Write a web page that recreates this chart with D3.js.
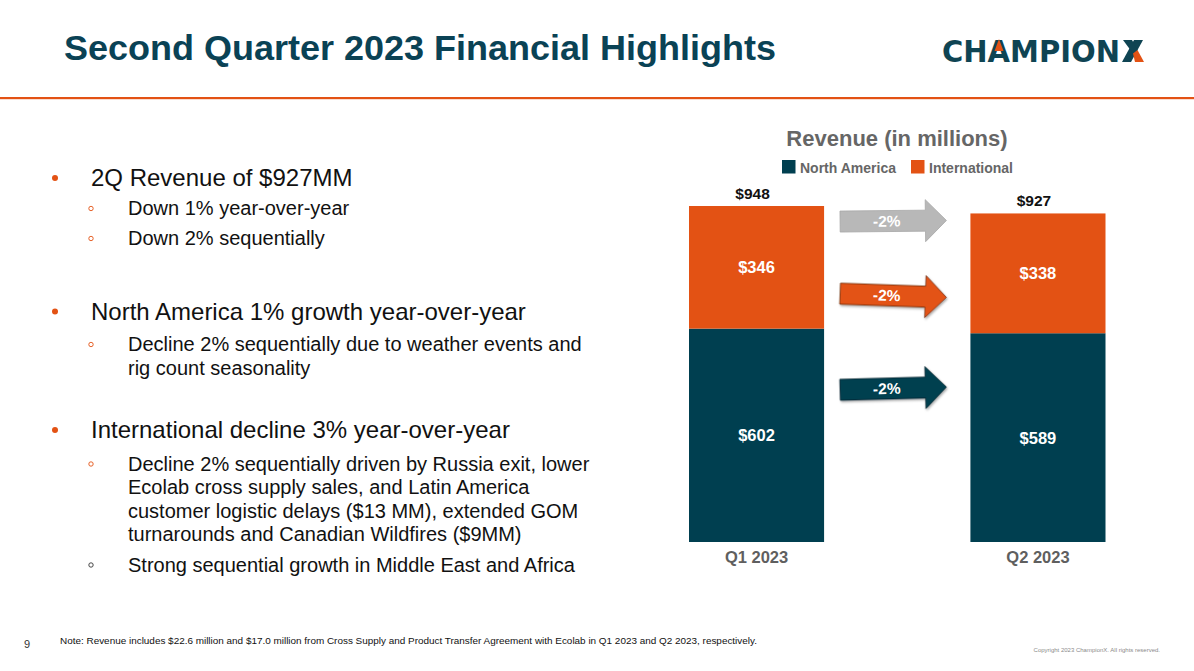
<!DOCTYPE html>
<html>
<head>
<meta charset="utf-8">
<script src="https://cdn.jsdelivr.net/npm/d3@7/dist/d3.min.js"></script>
<style>
  html, body { margin: 0; padding: 0; background: #ffffff; }
  svg { display: block; font-family: "Liberation Sans", Arial, sans-serif; }
</style>
</head>
<body>
<svg id="chart" width="1194" height="671"></svg>
<script>
// ---------- DATA ----------
const categories = ["Q1 2023", "Q2 2023"];
const seriesNames = ["North America", "International"];
const northAmerica = [602, 589];
const international = [346, 338];
const totals = [948, 927];
const changeLabels = ["-2%", "-2%", "-2%"]; // total, international, north america
const chartTitle = "Revenue (in millions)";
const slideTitle = "Second Quarter 2023 Financial Highlights";

const bullets = [
  { level: 0, lines: ["2Q Revenue of $927MM"] },
  { level: 1, lines: ["Down 1% year-over-year"] },
  { level: 1, lines: ["Down 2% sequentially"] },
  { level: 0, lines: ["North America 1% growth year-over-year"] },
  { level: 1, lines: ["Decline 2% sequentially due to weather events and", "rig count seasonality"] },
  { level: 0, lines: ["International decline 3% year-over-year"] },
  { level: 1, lines: ["Decline 2% sequentially driven by Russia exit, lower", "Ecolab cross supply sales, and Latin America", "customer logistic delays ($13 MM), extended GOM", "turnarounds and Canadian Wildfires ($9MM)"] },
  { level: 1, lines: ["Strong sequential growth in Middle East and Africa"], dark: true }
];
const bulletY = [178, 208.5, 238.5, 311.5, 344.5, 430, 464, 565];
const footNote = "Note: Revenue includes $22.6 million and $17.0 million from Cross Supply and Product Transfer Agreement with Ecolab in Q1 2023 and Q2 2023, respectively.";
const pageNumber = "9";
const copyright = "Copyright 2023 ChampionX. All rights reserved.";

// ---------- STYLE ----------
const NAVY = "#003f50";
const ORANGE = "#e35214";
const GRAY_ARROW = "#b8b8b8";
const TITLE_COLOR = "#0a4255";

const svg = d3.select("#chart");

const defs = svg.append("defs");
const f = defs.append("filter").attr("id", "shadow").attr("x", "-10%").attr("y", "-20%").attr("width", "130%").attr("height", "150%");
f.append("feDropShadow").attr("dx", 1).attr("dy", 1.5).attr("stdDeviation", 1).attr("flood-color", "#000").attr("flood-opacity", 0.35);

// ---------- HEADER ----------
svg.append("text").attr("x", 64).attr("y", 60)
  .attr("font-size", 35).attr("font-weight", "bold").attr("fill", TITLE_COLOR)
  .attr("textLength", 712).attr("lengthAdjust", "spacingAndGlyphs")
  .text(slideTitle);

svg.append("rect").attr("x", 0).attr("y", 97).attr("width", 1194).attr("height", 2.2).attr("fill", ORANGE);

// Logo
const LOGO = "#0f4453";
const logo = svg.append("g").attr("transform", "translate(942,62)");
logo.append("text").attr("x", 0).attr("y", 0)
  .attr("font-family", "'DejaVu Sans', sans-serif").attr("font-weight", "bold")
  .attr("font-size", 30).attr("fill", LOGO)
  .attr("textLength", 178).attr("lengthAdjust", "spacingAndGlyphs")
  .text("CHAMPION");
// X mark
logo.append("path").attr("d", "M192,-22 L201,-22 L189,0 L180,0 Z").attr("fill", LOGO);
logo.append("path").attr("d", "M181,-22 L190,-22 L195.5,-12 L191,-8.5 Z").attr("fill", LOGO);
logo.append("path").attr("d", "M191,-8.5 L195.5,-12 L202,0 L193,0 Z").attr("fill", ORANGE);
// orange triangle over A
logo.append("path").attr("d", "M57,-23 L61.5,-11 L52.5,-11 Z").attr("fill", ORANGE);

// ---------- LEFT BULLETS ----------
const bg = svg.append("g");
bullets.forEach((b, i) => {
  const y0 = bulletY[i];
  if (b.level === 0) {
    bg.append("circle").attr("cx", 55).attr("cy", y0).attr("r", 3).attr("fill", ORANGE);
    b.lines.forEach((ln, j) => {
      bg.append("text").attr("x", 91).attr("y", y0 + 8 + j * 24)
        .attr("font-size", 24).attr("fill", "#111").text(ln);
    });
  } else {
    bg.append("circle").attr("cx", 91).attr("cy", y0).attr("r", 2.2)
      .attr("fill", "none").attr("stroke", b.dark ? "#333" : ORANGE).attr("stroke-width", 0.9);
    b.lines.forEach((ln, j) => {
      bg.append("text").attr("x", 128).attr("y", y0 + 6.5 + j * 23.5)
        .attr("font-size", 20).attr("fill", "#111").text(ln);
    });
  }
});

// ---------- CHART ----------
const x = d3.scaleBand().domain(categories).range([689, 1105.5]).paddingInner(0.52).paddingOuter(0);
const y = d3.scaleLinear().domain([0, d3.max(totals)]).range([542, 206]);

svg.append("text").attr("x", 897).attr("y", 146).attr("text-anchor", "middle")
  .attr("font-size", 22).attr("font-weight", "bold").attr("fill", "#666666").text(chartTitle);

const legendColors = [NAVY, ORANGE];
const legendX = [782, 911];
seriesNames.forEach((s, i) => {
  svg.append("rect").attr("x", legendX[i]).attr("y", 160).attr("width", 13.5).attr("height", 13.5).attr("fill", legendColors[i]);
  svg.append("text").attr("x", legendX[i] + 18).attr("y", 172.5)
    .attr("font-size", 14).attr("font-weight", "bold").attr("fill", "#666666").text(s);
});

const stackData = categories.map((c, i) => ({ cat: c, na: northAmerica[i], intl: international[i], total: totals[i] }));
const stack = d3.stack().keys(["na", "intl"])(stackData);
const colorMap = { na: NAVY, intl: ORANGE };

stack.forEach(layer => {
  svg.append("g").selectAll("rect").data(layer).join("rect")
    .attr("x", d => x(d.data.cat))
    .attr("y", d => y(d[1]))
    .attr("width", x.bandwidth())
    .attr("height", d => y(d[0]) - y(d[1]))
    .attr("fill", colorMap[layer.key]);
  svg.append("g").selectAll("text").data(layer).join("text")
    .attr("x", d => x(d.data.cat) + x.bandwidth() / 2)
    .attr("y", d => (y(d[0]) + y(d[1])) / 2 + 6)
    .attr("text-anchor", "middle").attr("font-size", 16.5).attr("font-weight", "bold").attr("fill", "#ffffff")
    .text(d => "$" + (d.data[layer.key]));
});

svg.append("g").selectAll("text").data(stackData).join("text")
  .attr("x", d => x(d.cat) + x.bandwidth() / 2 - 4)
  .attr("y", d => y(d.total) - 7)
  .attr("text-anchor", "middle").attr("font-size", 15.5).attr("font-weight", "bold").attr("fill", "#111")
  .text(d => "$" + d.total);

svg.append("g").selectAll("text").data(categories).join("text")
  .attr("x", d => x(d) + x.bandwidth() / 2)
  .attr("y", 563)
  .attr("text-anchor", "middle").attr("font-size", 16.5).attr("font-weight", "bold").attr("fill", "#5f5f5f")
  .text(d => d);

// change arrows
const ax0 = x(categories[0]) + x.bandwidth() + 16;
const ax1 = x(categories[1]) - 24;
const arrowSpec = [
  { label: changeLabels[0], color: GRAY_ARROW, cy: y(totals[0]) + 15, rot: -0.6, stroke: "#a8a8a8" },
  { label: changeLabels[1], color: ORANGE, cy: y(northAmerica[0] + international[0] * 0.27), rot: 2, stroke: "#6b2a0c" },
  { label: changeLabels[2], color: NAVY, cy: y(northAmerica[0] * 0.72), rot: -1.5, stroke: "#00222c" }
];
arrowSpec.forEach(a => {
  const len = ax1 - ax0, headL = 21, sh = 10.5, hh = 21;
  const cx = (ax0 + ax1) / 2;
  const g = svg.append("g").attr("transform", `rotate(${a.rot},${cx},${a.cy})`);
  const p = `M${ax0},${a.cy - sh} L${ax1 - headL},${a.cy - sh} L${ax1 - headL},${a.cy - hh} L${ax1},${a.cy} L${ax1 - headL},${a.cy + hh} L${ax1 - headL},${a.cy + sh} L${ax0},${a.cy + sh} Z`;
  g.append("path").attr("d", p).attr("fill", a.color).attr("stroke", a.stroke).attr("stroke-width", 0.8)
    .attr("filter", a.color === GRAY_ARROW ? null : "url(#shadow)");
  g.append("text").attr("x", ax0 + (len - headL) / 2 + 4).attr("y", a.cy + 5.5)
    .attr("text-anchor", "middle").attr("font-size", 15.5).attr("font-weight", "bold").attr("fill", "#ffffff")
    .text(a.label);
});

// ---------- FOOTER ----------
svg.append("text").attr("x", 24).attr("y", 648).attr("font-size", 11).attr("fill", "#333").text(pageNumber);
svg.append("text").attr("x", 60).attr("y", 644).attr("font-size", 9.3).attr("fill", "#111")
  .attr("textLength", 697).attr("lengthAdjust", "spacingAndGlyphs").text(footNote);
svg.append("text").attr("x", 1160).attr("y", 652).attr("text-anchor", "end").attr("font-size", 6).attr("fill", "#8a8a8a").text(copyright);
</script>
</body>
</html>
